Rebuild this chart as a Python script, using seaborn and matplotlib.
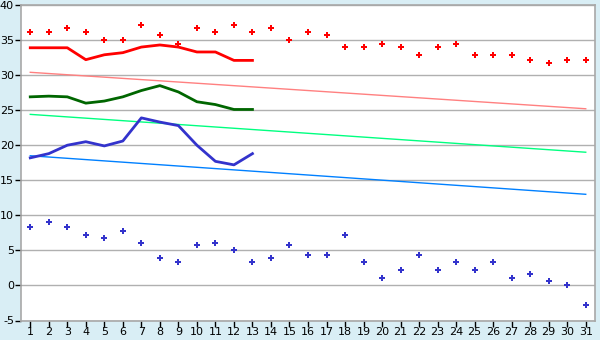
import numpy as np
import pandas as pd
import matplotlib
matplotlib.use("Agg")
import matplotlib.pyplot as plt
import seaborn as sns

plt.rcParams["axes.unicode_minus"] = False

days = list(range(1, 32))
max_pts = [36.1, 36.1, 36.7, 36.1, 35.0, 35.0, 37.2, 35.7, 34.4, 36.7, 36.1, 37.2, 36.1,
           36.7, 35.0, 36.1, 35.7, 34.0, 34.0, 34.4, 34.0, 32.8, 34.0, 34.4, 32.8, 32.8,
           32.8, 32.2, 31.7, 32.2, 32.2]
min_pts = [8.4, 9.0, 8.4, 7.2, 6.7, 7.8, 6.1, 3.9, 3.4, 5.7, 6.1, 5.0, 3.4, 3.9, 5.7,
           4.4, 4.4, 7.2, 3.4, 1.1, 2.2, 4.4, 2.2, 3.4, 2.2, 3.4, 1.1, 1.7, 0.7, 0.0, -2.8]
line_days = list(range(1, 14))
red_line = [33.9, 33.9, 33.9, 32.2, 32.9, 33.2, 34.0, 34.3, 34.0, 33.3, 33.3, 32.1, 32.1]
green_line = [26.9, 27.0, 26.9, 26.0, 26.3, 26.9, 27.8, 28.5, 27.6, 26.2, 25.8, 25.1, 25.1]
blue_line = [18.2, 18.8, 20.0, 20.5, 19.9, 20.6, 23.9, 23.3, 22.8, 20.0, 17.7, 17.2, 18.8]
trend_days = [1, 31]
pink_trend = [30.4, 25.2]
lgreen_trend = [24.4, 19.0]
lblue_trend = [18.5, 13.0]
y_ticks = [-5, 0, 5, 10, 15, 20, 25, 30, 35, 40]

bg = "#D9EEF5"
fig = plt.figure(figsize=(6, 3.4), dpi=100, facecolor=bg)
ax = fig.add_axes([21/600, 1-320.5/340, (595-21)/600, (320.5-5)/340])
ax.set_facecolor("white")

ax.set_ylim(-5, 40)
ax.set_xlim(0.5, 31.5)
ax.set_yticks(y_ticks)
ax.set_xticks(days)
ax.grid(axis="y", color="#B0B0B0", linewidth=1)
ax.set_axisbelow(True)
for s in ["left", "top", "right", "bottom"]:
    ax.spines[s].set_color("#A8A8A8")
    ax.spines[s].set_linewidth(1.2)

tr = pd.DataFrame({"d": trend_days, "p": pink_trend, "g": lgreen_trend, "b": lblue_trend})
sns.lineplot(data=tr, x="d", y="p", ax=ax, color="#FF8080", linewidth=1)
sns.lineplot(data=tr, x="d", y="g", ax=ax, color="#00FF80", linewidth=1)
sns.lineplot(data=tr, x="d", y="b", ax=ax, color="#0080FF", linewidth=1)

ln = pd.DataFrame({"d": line_days, "r": red_line, "g": green_line, "b": blue_line})
sns.lineplot(data=ln, x="d", y="r", ax=ax, color="#FF0000", linewidth=2)
sns.lineplot(data=ln, x="d", y="g", ax=ax, color="#006600", linewidth=2)
sns.lineplot(data=ln, x="d", y="b", ax=ax, color="#3333CC", linewidth=2)

pts = pd.DataFrame({"d": days, "mx": max_pts, "mn": min_pts})
sns.scatterplot(data=pts, x="d", y="mx", ax=ax, color="#FF0000", marker="P", s=18, linewidth=0)
sns.scatterplot(data=pts, x="d", y="mn", ax=ax, color="#3333CC", marker="P", s=18, linewidth=0)

ax.set_xlabel("")
ax.set_ylabel("")
ax.tick_params(axis="x", length=4, width=1, color="black", labelsize=8, pad=1)
ax.tick_params(axis="y", length=4, width=1, color="black", labelsize=8, pad=1)

fig.savefig("out.png", dpi=100, facecolor=bg)
